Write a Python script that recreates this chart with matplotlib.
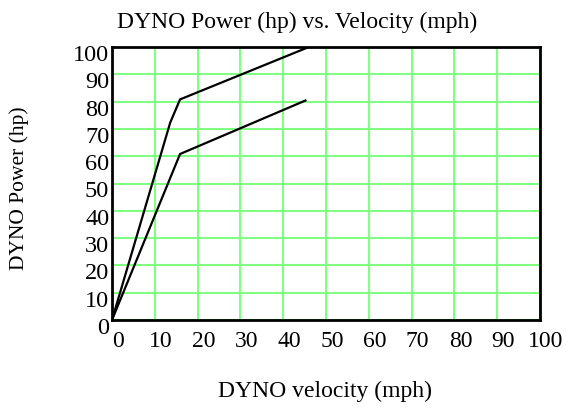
import matplotlib.pyplot as plt
import matplotlib.transforms as mtransforms
import numpy as np

# curve readings from the dyno chart
upper_v = [0, 13.6, 15.9, 46.0]
upper_hp = [0, 72.3, 80.8, 100.0]
lower_v = [0, 15.9, 45.2]
lower_hp = [0, 60.8, 80.4]

ticks = np.arange(0, 101, 10)
tick_labels = [str(t) for t in ticks]

plt.rcParams['font.family'] = ['Liberation Serif', 'DejaVu Serif']

W, H = 571, 410
fig = plt.figure(figsize=(W / 100, H / 100), dpi=100)
ax = fig.add_axes([112 / W, 1 - 321 / H, (540 - 112) / W, (321 - 48) / H])

ax.plot(upper_v, upper_hp, color='black', lw=1.6, solid_joinstyle='miter')
ax.plot(lower_v, lower_hp, color='black', lw=1.6, solid_joinstyle='miter')

ax.set_xlim(0, 100)
ax.set_ylim(0, 100)
ax.set_xticks(ticks)
ax.set_yticks(ticks)
ax.set_xticklabels(tick_labels, fontsize=17)
ax.set_yticklabels(tick_labels, fontsize=17.5)
ax.grid(True, color='#80ff80', lw=1.5)
ax.set_axisbelow(True)
ax.tick_params(length=0)
ax.tick_params(axis='x', pad=7)
ax.tick_params(axis='y', pad=2)

# labels sit a bit right / low of their ticks in the original
dx = mtransforms.ScaledTranslation(6 / 100, 0, fig.dpi_scale_trans)
for lbl in ax.get_xticklabels():
    lbl.set_transform(lbl.get_transform() + dx)
dy = mtransforms.ScaledTranslation(0, 3 / 100, fig.dpi_scale_trans)
for lbl in ax.get_yticklabels():
    lbl.set_va('top')
    lbl.set_transform(lbl.get_transform() + dy)

for s in ax.spines.values():
    s.set_linewidth(2)
    s.set_color('black')

fig.text(297.5 / W, 1 - 22 / H, 'DYNO Power (hp) vs. Velocity (mph)',
         ha='center', va='center', fontsize=17)
fig.text(325 / W, 1 - 391 / H, 'DYNO velocity (mph)',
         ha='center', va='center', fontsize=17)
fig.text(19 / W, 1 - 188 / H, 'DYNO Power (hp)', rotation=90,
         ha='center', va='center', fontsize=15.5)

fig.savefig('out.png', dpi=100)
